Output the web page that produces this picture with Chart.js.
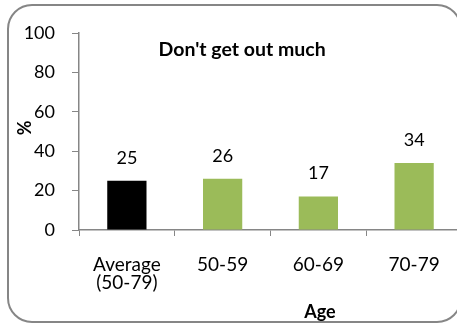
<!DOCTYPE html>
<html>
<head>
<meta charset="utf-8">
<script src="https://cdn.jsdelivr.net/npm/chart.js@4"></script>
<style>
  html, body { margin: 0; padding: 0; background: #fff; overflow: hidden; }
  #wrap { position: relative; width: 457px; height: 327px; overflow: hidden; }
  #c { position: absolute; left: 0; top: 0; }
</style>
</head>
<body>
<div id="wrap">
  <canvas id="c" width="480" height="327"></canvas>
</div>
<script>
const categories = [["Average", "(50-79)"], "50-59", "60-69", "70-79"];
const values = [25, 26, 17, 34];
const barColors = ["#000000", "#9BBB59", "#9BBB59", "#9BBB59"];
const yTicks = [0, 20, 40, 60, 80, 100];
const chartTitle = "Don't get out much";
const xTitle = "Age";
const yTitle = "%";

const FONT = "Lato, 'Open Sans', sans-serif";
const AXIS = "#868686";

// rounded outline around the whole chart
const frame = {
  id: "frame",
  beforeDraw(chart) {
    const ctx = chart.ctx;
    ctx.save();
    ctx.strokeStyle = AXIS;
    ctx.lineWidth = 2;
    ctx.beginPath();
    ctx.roundRect(8, 5, 453, 317, 24);
    ctx.stroke();
    ctx.restore();
  }
};

// value labels above each bar plus the in-plot title and axis titles
const annotate = {
  id: "annotate",
  afterDatasetsDraw(chart) {
    const ctx = chart.ctx;
    const area = chart.chartArea;
    const meta = chart.getDatasetMeta(0);
    ctx.save();
    ctx.fillStyle = "#000";
    ctx.textAlign = "center";
    ctx.textBaseline = "middle";
    ctx.font = "18px " + FONT;
    meta.data.forEach((bar, i) => {
      ctx.fillText(String(values[i]), bar.x, bar.y - 23);
    });
    ctx.font = "bold 19.5px " + FONT;
    ctx.fillText(chartTitle, area.left + (area.right - area.left) * 0.426, area.top + 17);
    ctx.font = "bold 18px " + FONT;
    ctx.fillText(xTitle, area.left + (area.right - area.left) * 0.629, area.bottom + 82);
    ctx.translate(25, area.top + (area.bottom - area.top) * 0.482);
    ctx.rotate(-Math.PI / 2);
    ctx.fillText(yTitle, 0, 0);
    ctx.restore();
  }
};

new Chart(document.getElementById("c"), {
  type: "bar",
  data: {
    labels: categories,
    datasets: [{
      data: values,
      backgroundColor: barColors,
      borderWidth: 0,
      categoryPercentage: 1,
      barPercentage: 0.41
    }]
  },
  options: {
    responsive: false,
    animation: false,
    devicePixelRatio: 1,
    layout: { padding: { left: 0, top: 33, right: 18, bottom: 0 } },
    plugins: { legend: { display: false }, tooltip: { enabled: false }, title: { display: false } },
    scales: {
      x: {
        offset: true,
        grid: { display: true, drawOnChartArea: false, drawTicks: true, tickLength: 6, color: AXIS, offset: true },
        border: { display: true, color: AXIS, width: 1.5 },
        ticks: { color: "#000", font: { family: FONT, size: 19, lineHeight: 0.95 }, padding: 20, maxRotation: 0, autoSkip: false },
        afterFit(s) { s.height = 97; }
      },
      y: {
        min: 0, max: 100,
        afterBuildTicks(s) { s.ticks = yTicks.map(v => ({ value: v })); },
        grid: { display: true, drawOnChartArea: false, drawTicks: true, tickLength: 7, color: AXIS },
        border: { display: true, color: AXIS, width: 1.5 },
        ticks: { color: "#000", font: { family: FONT, size: 18 }, padding: 17 },
        afterFit(s) { s.width = 79; }
      }
    }
  },
  plugins: [frame, annotate]
});
</script>
</body>
</html>
